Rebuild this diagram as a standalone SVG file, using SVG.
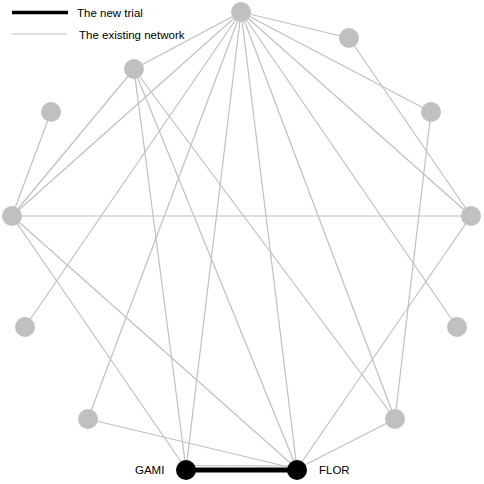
<svg xmlns="http://www.w3.org/2000/svg" width="484" height="484" viewBox="0 0 484 484">
<style>
.e{stroke:#c0c0c0;stroke-width:1.2;fill:none}
.n{fill:#c0c0c0}
.b{fill:#000}
text{font-family:"Liberation Sans",Arial,sans-serif;font-size:11.5px;fill:#000}
</style>
<rect width="484" height="484" fill="#fff"/>
<g id="legend">
<line x1="12" y1="12.5" x2="68" y2="12.5" stroke="#000" stroke-width="3.5"/>
<text x="77" y="17">The new trial</text>
<line x1="12" y1="34" x2="67" y2="34" class="e"/>
<text x="79" y="38.5">The existing network</text>
</g>
<g id="connectors">
<line class="e" x1="241" y1="12" x2="349" y2="38"/>
<line class="e" x1="241" y1="12" x2="431" y2="112"/>
<line class="e" x1="241" y1="12" x2="471" y2="216"/>
<line class="e" x1="241" y1="12" x2="457" y2="327"/>
<line class="e" x1="241" y1="12" x2="395" y2="419"/>
<line class="e" x1="241" y1="12" x2="297" y2="469"/>
<line class="e" x1="241" y1="12" x2="186" y2="469"/>
<line class="e" x1="241" y1="12" x2="88" y2="419"/>
<line class="e" x1="241" y1="12" x2="25" y2="327"/>
<line class="e" x1="241" y1="12" x2="12" y2="216"/>
<line class="e" x1="241" y1="12" x2="134" y2="69"/>
<line class="e" x1="134" y1="69" x2="12" y2="216"/>
<line class="e" x1="134" y1="69" x2="186" y2="469"/>
<line class="e" x1="134" y1="69" x2="297" y2="469"/>
<line class="e" x1="134" y1="69" x2="395" y2="419"/>
<line class="e" x1="12" y1="216" x2="51" y2="112"/>
<line class="e" x1="12" y1="216" x2="471" y2="216"/>
<line class="e" x1="12" y1="216" x2="186" y2="469"/>
<line class="e" x1="12" y1="216" x2="297" y2="469"/>
<line class="e" x1="349" y1="38" x2="471" y2="216"/>
<line class="e" x1="431" y1="112" x2="395" y2="419"/>
<line class="e" x1="471" y1="216" x2="297" y2="469"/>
<line class="e" x1="395" y1="419" x2="297" y2="469"/>
<line class="e" x1="88" y1="419" x2="297" y2="469"/>
<line class="e" x1="186" y1="465.5" x2="297" y2="466"/>
<line x1="186" y1="470" x2="297" y2="470" stroke="#000" stroke-width="5"/>
</g>
<g id="n1"><circle class="n" cx="241" cy="12" r="10"/></g>
<g id="n2"><circle class="n" cx="349" cy="38" r="10"/></g>
<g id="n3"><circle class="n" cx="431" cy="112" r="10"/></g>
<g id="n4"><circle class="n" cx="471" cy="216" r="10"/></g>
<g id="n5"><circle class="n" cx="457" cy="327" r="10"/></g>
<g id="n6"><circle class="n" cx="395" cy="419" r="10"/></g>
<g id="FLOR"><circle class="b" cx="297" cy="470" r="10"/><text x="319" y="474">FLOR</text></g>
<g id="GAMI"><circle class="b" cx="186" cy="470" r="10"/><text x="135" y="474">GAMI</text></g>
<g id="n9"><circle class="n" cx="88" cy="419" r="10"/></g>
<g id="n10"><circle class="n" cx="25" cy="327" r="10"/></g>
<g id="n11"><circle class="n" cx="12" cy="216" r="10"/></g>
<g id="n12"><circle class="n" cx="51" cy="112" r="10"/></g>
<g id="n13"><circle class="n" cx="134" cy="69" r="10"/></g>
</svg>
